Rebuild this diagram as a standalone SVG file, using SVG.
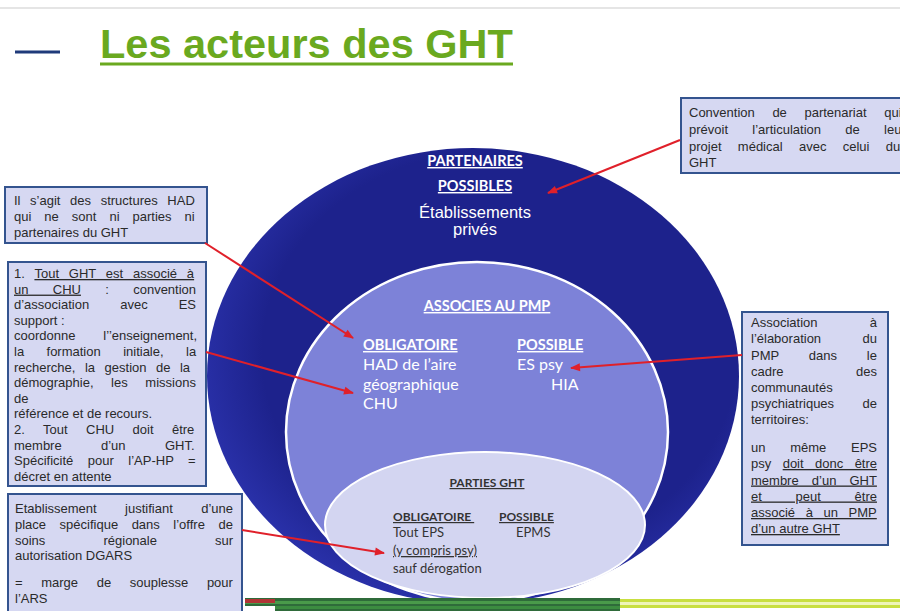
<svg xmlns="http://www.w3.org/2000/svg" width="900" height="611" viewBox="0 0 900 611">
<defs>
<style>
.bx{fill:#d6d8f2;stroke:#34548f;stroke-width:2}
.t{font-family:"Liberation Sans",Arial,sans-serif;font-size:13px;fill:#2a2a2a}
.u{text-decoration:underline}
.lw{font-family:Lato,"Open Sans",sans-serif;font-weight:bold;font-size:14.5px;fill:#ffffff;text-decoration:underline}
.lr{font-family:Lato,"Open Sans",sans-serif;font-size:16px;fill:#ffffff}
.ld{font-family:Lato,"Open Sans",sans-serif;font-weight:bold;font-size:12px;fill:#333333;text-decoration:underline}
.ldr{font-family:Lato,"Open Sans",sans-serif;font-size:13px;fill:#333333}
.ar{stroke:#e0202a;stroke-width:2;fill:none;marker-end:url(#ah)}
</style>
<marker id="ah" viewBox="0 0 10 10" refX="9" refY="5" markerWidth="11" markerHeight="10" markerUnits="userSpaceOnUse" orient="auto"><path d="M0,1 L10,5 L0,9 z" fill="#e0202a"/></marker>
<radialGradient id="og" cx="0.55" cy="0.45" r="0.62"><stop offset="0.72" stop-color="#1d228c"/><stop offset="1" stop-color="#2e36b4"/></radialGradient>
</defs>
<rect width="900" height="611" fill="#ffffff"/>
<line x1="0" y1="8" x2="900" y2="8" stroke="#dddddd" stroke-width="1.5"/>

<g id="title">
<line x1="15" y1="52" x2="60" y2="52" stroke="#1f3a7a" stroke-width="3"/>
<text x="100" y="58" font-family="'Liberation Sans',Arial,sans-serif" font-weight="bold" font-size="41.5" fill="#6aa91f">Les acteurs des GHT</text>
<line x1="100" y1="64" x2="513" y2="64" stroke="#6aa91f" stroke-width="3"/>
</g>

<g id="partenaires">
<ellipse cx="473" cy="376" rx="266" ry="228" fill="url(#og)"/>
<text class="lw" x="475" y="166" text-anchor="middle">PARTENAIRES</text>
<text class="lw" x="475" y="191" text-anchor="middle">POSSIBLES</text>
<text x="475" y="218" text-anchor="middle" font-family="'Liberation Sans',Arial,sans-serif" font-size="16.5" fill="#ffffff">Établissements</text>
<text x="475" y="235" text-anchor="middle" font-family="'Liberation Sans',Arial,sans-serif" font-size="16.5" fill="#ffffff">privés</text>
</g>

<g id="associes">
<ellipse cx="477" cy="432" rx="191" ry="170" fill="#7d82d8" stroke="#ffffff" stroke-width="2.5"/>
<text class="lw" x="487" y="311" text-anchor="middle">ASSOCIES AU PMP</text>
<text class="lw" x="363" y="350">OBLIGATOIRE</text>
<text class="lw" x="517" y="350">POSSIBLE</text>
<text class="lr" x="363" y="370">HAD de l’aire</text>
<text class="lr" x="363" y="390">géographique</text>
<text class="lr" x="363" y="409">CHU</text>
<text class="lr" x="517" y="370">ES psy</text>
<text class="lr" x="551" y="390">HIA</text>
</g>

<g id="parties">
<ellipse cx="485" cy="525" rx="160" ry="73" fill="#d3d5f1" stroke="#ffffff" stroke-width="2"/>
<text class="ld" x="487" y="487" text-anchor="middle">PARTIES GHT</text>
<text class="ld" x="393" y="521">OBLIGATOIRE&#160;</text>
<text class="ld" x="499" y="521">POSSIBLE</text>
<text class="ldr" x="393" y="537">Tout EPS</text>
<text class="ldr" x="516" y="537">EPMS</text>
<text class="ldr u" x="393" y="555">(y compris psy)</text>
<text class="ldr" x="393" y="573">sauf dérogation</text>
</g>

<g id="stripe">
<rect x="245" y="598" width="375" height="13" fill="#2f6b3a"/>
<rect x="245" y="601" width="375" height="3" fill="#4a9a4a"/>
<rect x="245" y="606" width="375" height="3" fill="#3c8c40"/>
<rect x="245" y="599" width="30" height="4" fill="#b03535"/>
<rect x="245" y="606" width="30" height="5" fill="#ffffff"/>
<rect x="620" y="599" width="280" height="3" fill="#c8df40"/>
<rect x="620" y="602" width="280" height="3" fill="#eef4b8"/>
<rect x="620" y="605" width="280" height="3" fill="#c8df40"/>
</g>

<g id="box-convention">
<rect class="bx" x="681" y="98" width="240" height="75"/>
<text class="t" x="689" y="117" word-spacing="14">Convention de partenariat qui</text>
<text class="t" x="689" y="134" word-spacing="20.7">prévoit l’articulation de leur</text>
<text class="t" x="689" y="151" word-spacing="12.7">projet médical avec celui du</text>
<text class="t" x="689" y="167">GHT</text>
</g>

<g id="box-had">
<rect class="bx" x="5" y="187" width="202" height="56"/>
<text class="t" x="14" y="205" word-spacing="6">Il s’agit des structures HAD</text>
<text class="t" x="14" y="221" word-spacing="9.4">qui ne sont ni parties ni</text>
<text class="t" x="14" y="237">partenaires du GHT</text>
</g>

<g id="box-chu">
<rect class="bx" x="8" y="262" width="198" height="224"/>
<text class="t" x="14" y="278" word-spacing="6.2">1. <tspan class="u">Tout GHT est associé à</tspan></text>
<text class="t" x="14" y="293.6" word-spacing="20.7"><tspan class="u">un CHU</tspan> : convention</text>
<text class="t" x="14" y="309.2" word-spacing="27.4">d’association avec ES</text>
<text class="t" x="14" y="324.8">support :</text>
<text class="t" x="14" y="340.4" word-spacing="24.3">coordonne l’’enseignement,</text>
<text class="t" x="14" y="356" word-spacing="18.8">la formation initiale, la</text>
<text class="t" x="14" y="371.6" word-spacing="5.9">recherche, la gestion de la</text>
<text class="t" x="14" y="387.2" word-spacing="14">démographie, les missions</text>
<text class="t" x="14" y="402.8">de</text>
<text class="t" x="14" y="418.4">référence et de recours.</text>
<text class="t" x="14" y="434" word-spacing="14.8">2. Tout CHU doit être</text>
<text class="t" x="14" y="449.6" word-spacing="35.7">membre d’un GHT.</text>
<text class="t" x="14" y="465.2" word-spacing="10.9">Spécificité pour l’AP-HP =</text>
<text class="t" x="14" y="480.8">décret en attente</text>
</g>

<g id="box-etab">
<rect class="bx" x="8" y="494" width="234" height="125"/>
<text class="t" x="15" y="513" word-spacing="24.8">Etablissement justifiant d’une</text>
<text class="t" x="15" y="529" word-spacing="9.9">place spécifique dans l’offre de</text>
<text class="t" x="15" y="545" word-spacing="54.5">soins régionale sur</text>
<text class="t" x="15" y="560">autorisation DGARS</text>
<text class="t" x="15" y="587" word-spacing="15">= marge de souplesse pour</text>
<text class="t" x="15" y="603">l’ARS</text>
</g>

<g id="box-psy">
<rect class="bx" x="742" y="312" width="146" height="233"/>
<text class="t" x="751" y="327" word-spacing="48.7">Association à</text>
<text class="t" x="751" y="343" word-spacing="37.8">l’élaboration du</text>
<text class="t" x="751" y="359.5" word-spacing="26.2">PMP dans le</text>
<text class="t" x="751" y="375.5" word-spacing="68.9">cadre des</text>
<text class="t" x="751" y="392">communautés</text>
<text class="t" x="751" y="408" word-spacing="24.8">psychiatriques de</text>
<text class="t" x="751" y="424">territoires:</text>
<text class="t" x="751" y="452" word-spacing="21.1">un même EPS</text>
<text class="t" x="751" y="468" word-spacing="7.8">psy <tspan class="u">doit donc être</tspan></text>
<text class="t u" x="751" y="484.5" word-spacing="9.5">membre d’un GHT</text>
<text class="t u" x="751" y="500.5" word-spacing="30.1">et peut être</text>
<text class="t u" x="751" y="517" word-spacing="7">associé à un PMP</text>
<text class="t u" x="751" y="533">d’un autre GHT</text>
</g>

<g id="connectors">
<line class="ar" x1="680" y1="140" x2="548" y2="193"/>
<line class="ar" x1="205" y1="243" x2="353" y2="338"/>
<line class="ar" x1="206" y1="352" x2="353" y2="393"/>
<line class="ar" x1="742" y1="355" x2="571" y2="368"/>
<line class="ar" x1="242" y1="530" x2="384" y2="553"/>
</g>
</svg>
